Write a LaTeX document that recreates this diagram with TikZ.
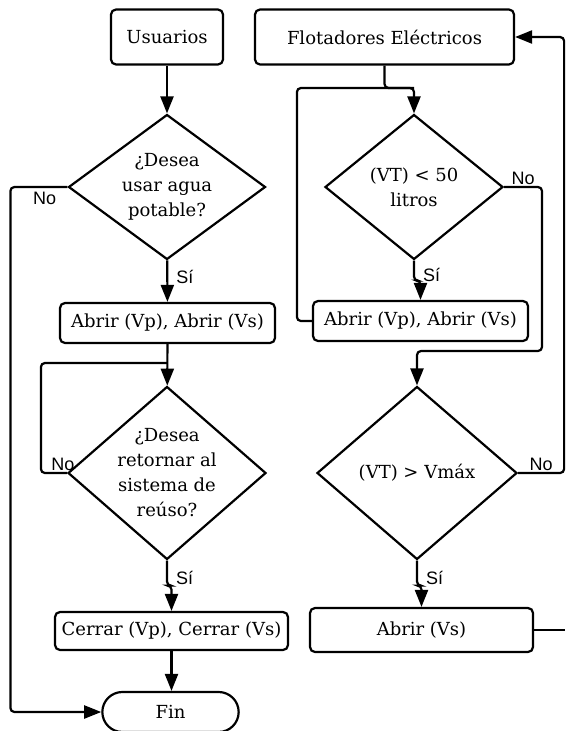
\documentclass[tikz,border=0pt]{standalone}
\usepackage{fontspec}
\setmainfont{DejaVu Serif}
\setsansfont{Liberation Sans}
\usetikzlibrary{shapes.geometric,shapes.misc,arrows.meta}

\begin{document}
\begin{tikzpicture}[
    x=1pt, y=-1pt,
    box/.style={draw, rounded corners=5pt, line width=2.2pt, inner xsep=2pt, align=center, font=\fontsize{18}{25}\selectfont},
    decision/.style={draw, diamond, line width=2.2pt, inner sep=0pt, align=center, font=\fontsize{18}{25}\selectfont},
    term/.style={draw, rounded rectangle, line width=2.2pt, minimum width=143pt, minimum height=40pt, font=\fontsize{18}{25}\selectfont},
    link/.style={-{Triangle[length=17pt,width=13pt]}, line width=2.2pt, rounded corners=4pt},
    wire/.style={line width=2.2pt, rounded corners=4pt},
    lbl/.style={font=\sffamily\fontsize{18}{18}\selectfont, inner sep=1pt}
]
\useasboundingbox (0,0) rectangle (565,731);

% left column
\node[box, minimum width=112pt, minimum height=55pt] (usu) at (167,37) {Usuarios};
\node[decision, minimum width=197pt, minimum height=145pt, aspect=1.36] (q1) at (167,187) {¿Desea\\usar agua\\potable?};
\node[box, minimum width=215pt, minimum height=40pt] (ab1) at (167.5,323) {Abrir (Vp), Abrir (Vs)};
\node[decision, minimum width=198pt, minimum height=173pt, aspect=1.14, inner sep=-5pt] (q2) at (167,473) {¿Desea\\retornar al\\sistema de\\reúso?};
\node[box, minimum width=233pt, minimum height=38pt] (ce) at (171.5,631) {Cerrar (Vp), Cerrar (Vs)};
\node[term] (fin) at (170.5,712) {Fin};

% right column
\node[box, minimum width=259pt, minimum height=55pt] (flo) at (384.5,37) {Flotadores Eléctricos};
\node[decision, minimum width=178pt, minimum height=145pt, aspect=1.23] (q3) at (414,187) {(VT) < 50\\litros};
\node[box, minimum width=215pt, minimum height=40pt] (ab2) at (420.5,321) {Abrir (Vp), Abrir (Vs)};
\node[decision, minimum width=200pt, minimum height=173pt, aspect=1.16] (q4) at (417,473) {(VT) > Vmáx};
\node[box, minimum width=223pt, minimum height=44pt] (abvs) at (421.5,630) {Abrir (Vs)};

\coordinate (j2) at (167,363);
\coordinate (j3) at (414,88);
\coordinate (j4) at (542,351);
\coordinate (rim) at (565,630);

\draw[link] (usu) -- (q1);
\draw[link] (q1) -- node[lbl, right=7pt, pos=0.4] (si1) {Sí} (ab1);
\draw[link] (q1.west) -- node[lbl, below=3pt, pos=0.4] (no1) {No} ++(-57,0) |- (fin.west);
\draw[link] (ab1) -- (q2);
\draw[wire] (q2.west) -- node[lbl, above, pos=0.15] (no2) {No} ++(-26,0) |- (j2);
\draw[link] (q2.south) -- node[lbl, right=7pt, pos=0.7] (si2) {Sí} ++(0,25) -| (ce.north);
\draw[link] (ce) -- (ce.south |- fin.north);

\draw[link] (flo.south) |- (j3) -- (q3.north);
\draw[wire] (ab2.west) -- ++(-15,0) |- (j3);
\draw[link] (q3.east) -| node[lbl, above, pos=0.25] (no3) {No} (j4) -| (q4.north);
\draw[link] (q3.south) -- node[lbl, right=7pt, pos=0.7] (si3) {Sí} ++(0,20) -| (ab2.north);
\draw[link] (q4.east) -- node[lbl, above, pos=0.5] (no4) {No} ++(46,0) |- (flo.east);
\draw[link] (q4.south) -- node[lbl, right=7pt, pos=0.7] (si4) {Sí} ++(0,25) -| (abvs.north);
\draw[wire] (abvs.east) -- (rim);

\end{tikzpicture}
\end{document}
